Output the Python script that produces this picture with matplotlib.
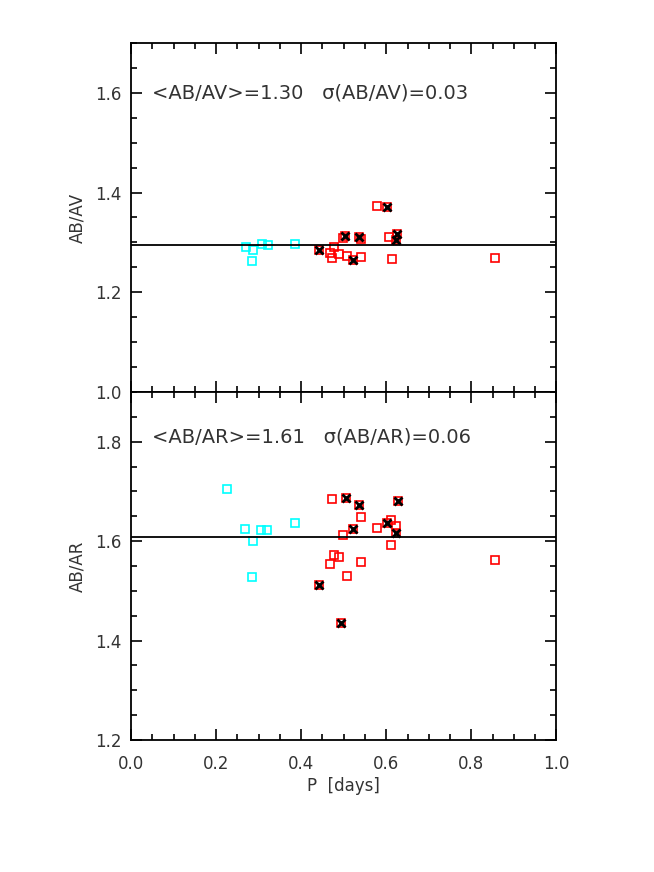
import matplotlib
matplotlib.use('Agg')
import matplotlib.pyplot as plt
from matplotlib.ticker import MultipleLocator

# --- AB/AV panel ---
av_cyan_p = [0.270, 0.287, 0.285, 0.308, 0.321, 0.385]
av_cyan_r = [1.291, 1.285, 1.263, 1.297, 1.295, 1.297]
av_red_p = [0.578, 0.498, 0.541, 0.607, 0.478, 0.468, 0.472, 0.489, 0.507, 0.541, 0.614, 0.855]
av_red_r = [1.373, 1.308, 1.307, 1.311, 1.291, 1.279, 1.268, 1.277, 1.273, 1.270, 1.267, 1.268]
av_x_p = [0.602, 0.503, 0.535, 0.626, 0.623, 0.443, 0.521]
av_x_r = [1.371, 1.313, 1.310, 1.317, 1.305, 1.285, 1.264]
av_mean, av_sig = 1.30, 0.03
av_line = 1.295

# --- AB/AR panel ---
ar_cyan_p = [0.226, 0.269, 0.287, 0.306, 0.320, 0.385, 0.285]
ar_cyan_r = [1.705, 1.625, 1.600, 1.623, 1.623, 1.636, 1.527]
ar_red_p = [0.472, 0.541, 0.498, 0.579, 0.611, 0.623, 0.611, 0.478, 0.490, 0.468, 0.541, 0.508, 0.855]
ar_red_r = [1.685, 1.648, 1.612, 1.627, 1.642, 1.631, 1.592, 1.573, 1.569, 1.553, 1.557, 1.529, 1.563]
ar_x_p = [0.505, 0.535, 0.627, 0.521, 0.602, 0.623, 0.443, 0.493]
ar_x_r = [1.687, 1.672, 1.680, 1.625, 1.637, 1.616, 1.511, 1.435]
ar_mean, ar_sig = 1.61, 0.06
ar_line = 1.608

plt.rcParams['font.family'] = 'DejaVu Sans'
txt_col = '#333333'

fig = plt.figure(figsize=(6.54, 8.72), dpi=100)
ax1 = fig.add_axes([0.2003, 0.5505, 0.6506, 0.4002])
ax2 = fig.add_axes([0.2003, 0.1514, 0.6506, 0.3991])


def panel(ax, cp, cr, rp, rr, xp, xr, line, ylim, label, text):
    ax.plot(cp, cr, 's', ms=6, mfc='none', mec='#00ffff', mew=1.2, ls='none')
    ax.plot(rp + xp, rr + xr, 's', ms=6, mfc='none', mec='#ff0000', mew=1.2, ls='none')
    ax.plot(xp, xr, 'x', ms=6, mec='black', mew=2.0, ls='none')
    ax.axhline(line, color='black', lw=1.3)
    ax.set_xlim(0, 1)
    ax.set_ylim(*ylim)
    ax.xaxis.set_major_locator(MultipleLocator(0.2))
    ax.xaxis.set_minor_locator(MultipleLocator(0.05))
    ax.yaxis.set_major_locator(MultipleLocator(0.2))
    ax.yaxis.set_minor_locator(MultipleLocator(0.05))
    ax.tick_params(which='both', direction='in', top=True, right=True, width=1.2,
                   labelsize=12, labelcolor=txt_col)
    ax.tick_params(which='major', length=8)
    ax.tick_params(which='minor', length=4)
    ax.tick_params(axis='y', pad=7)
    ax.tick_params(axis='x', pad=11)
    for s in ax.spines.values():
        s.set_linewidth(1.3)
    ax.set_ylabel(label, fontsize=12, color=txt_col, labelpad=6)
    ax.text(0.05, text[0], text[1], fontsize=14, color=txt_col, va='center', ha='left')


panel(ax1, av_cyan_p, av_cyan_r, av_red_p, av_red_r, av_x_p, av_x_r, av_line,
      (1.0, 1.7), 'AB/AV',
      (1.6, '<AB/AV>=%.2f   \u03c3(AB/AV)=%.2f' % (av_mean, av_sig)))
panel(ax2, ar_cyan_p, ar_cyan_r, ar_red_p, ar_red_r, ar_x_p, ar_x_r, ar_line,
      (1.2, 1.9), 'AB/AR',
      (1.81, '<AB/AR>=%.2f   \u03c3(AB/AR)=%.2f' % (ar_mean, ar_sig)))

ax1.tick_params(labelbottom=False)
ax2.set_xlabel('P  [days]', fontsize=12, color=txt_col, labelpad=3)

fig.savefig('out.png', dpi=100)
